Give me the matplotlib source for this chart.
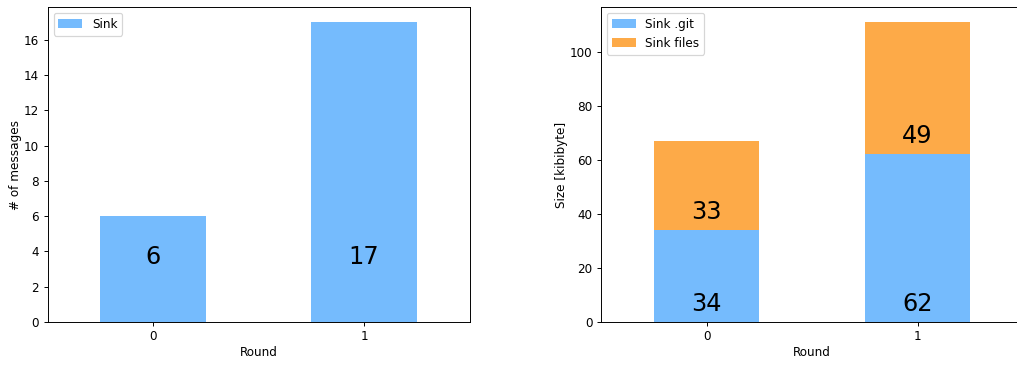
import matplotlib
matplotlib.use("Agg")
import matplotlib.pyplot as plt
import numpy as np

rounds = ["0", "1"]
messages = [6, 17]
sink_git = [34, 62]
sink_files = [33, 49]

blue = "#75bbfd"
orange = "#fdaa48"

dpi = 86.4
W, H = 1017, 365
fig = plt.figure(figsize=(W / dpi, H / dpi), dpi=dpi)

def axes_px(x0, x1, y0, y1):
    return fig.add_axes([x0 / W, 1 - y1 / H, (x1 - x0) / W, (y1 - y0) / H])

x = np.arange(len(rounds))
width = 0.5

# Left: message counts
ax1 = axes_px(47.5, 469.5, 7, 322)
ax1.bar(x, messages, width, color=blue, label="Sink")
ax1.set_xlim(-0.5, len(rounds) - 0.5)
ax1.set_ylim(0, max(messages) * 1.05)
ax1.set_xticks(x)
ax1.set_xticklabels(rounds, rotation=0)
ax1.set_xlabel("Round", labelpad=2.3)
ax1.set_ylabel("# of messages", labelpad=1.9)
ax1.legend(loc="upper left")
for xi, v in zip(x, messages):
    ax1.text(xi, 3.68, str(v), ha="center", va="center", fontsize=20)

# Right: repository size, stacked
ax2 = axes_px(601, 1023, 7, 322)
ax2.bar(x, sink_git, width, color=blue, label="Sink .git")
ax2.bar(x, sink_files, width, bottom=sink_git, color=orange, label="Sink files")
totals = [a + b for a, b in zip(sink_git, sink_files)]
ax2.set_xlim(-0.5, len(rounds) - 0.5)
ax2.set_ylim(0, max(totals) * 1.05)
ax2.set_xticks(x)
ax2.set_xticklabels(rounds, rotation=0)
ax2.set_xlabel("Round", labelpad=2.3)
ax2.set_ylabel("Size [kibibyte]", labelpad=1.9)
ax2.legend(loc="upper left")
off = 6.7
for xi, g, f in zip(x, sink_git, sink_files):
    ax2.text(xi, off, str(g), ha="center", va="center", fontsize=20)
    ax2.text(xi, g + off, str(f), ha="center", va="center", fontsize=20)

fig.savefig("out.png", dpi=dpi)
